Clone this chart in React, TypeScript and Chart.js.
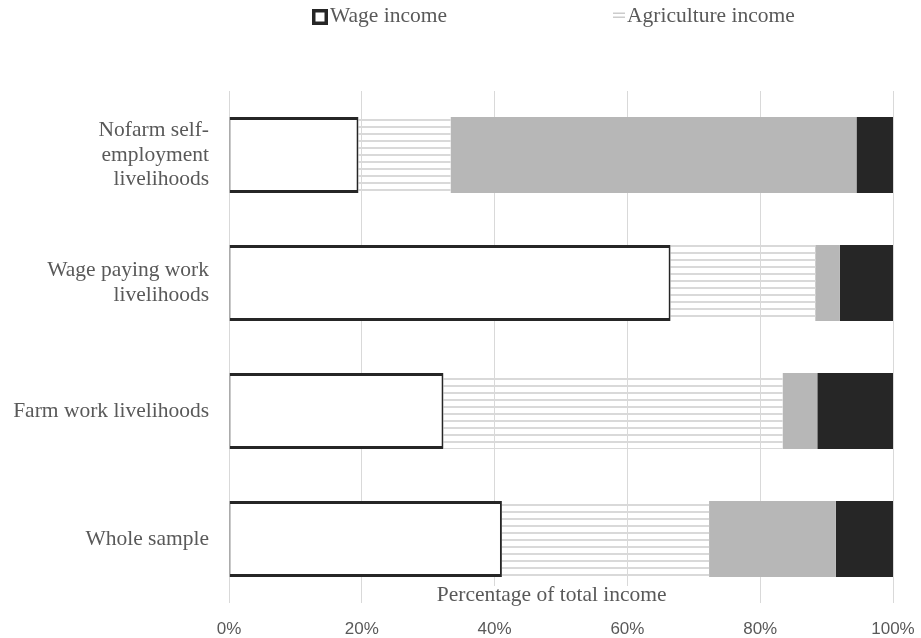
import { useEffect, useRef } from 'react';
import { Chart, registerables } from 'chart.js';
Chart.register(...registerables);

const categories = [
  ['Nofarm self-', 'employment', 'livelihoods'],
  ['Wage paying work', 'livelihoods'],
  'Farm work livelihoods',
  'Whole sample',
];
const wageIncome = [19.5, 66.5, 32.3, 41.1];
const agricultureIncome = [13.9, 21.8, 51.1, 31.2];
const nonfarmIncome = [61.1, 3.7, 5.2, 19.1];
const otherIncome = [5.5, 8.0, 11.4, 8.6];
const seriesNames = ['Wage income', 'Agriculture income', 'Nonfarm self-employment income', 'Other income'];
const xTickLabels = ['0%', '20%', '40%', '60%', '80%', '100%'];
const axisTitle = 'Percentage of total income';

const SERIF = '"Liberation Serif", "Times New Roman", serif';
const SANS = '"Liberation Sans", Arial, sans-serif';
const TEXT = '#595959';
const DARK = '#262626';

export default function App() {
  const ref = useRef<HTMLCanvasElement>(null);
  useEffect(() => {
    const canvas = ref.current!;
    const ctx = canvas.getContext('2d')!;
    const pc = document.createElement('canvas');
    pc.width = 8;
    pc.height = 7;
    const pctx = pc.getContext('2d')!;
    pctx.fillStyle = '#d9d9d9';
    pctx.fillRect(0, 0, 8, 2);
    const stripes = ctx.createPattern(pc, 'repeat')!;

    const decor = {
      id: 'decor',
      afterDraw(chart: any) {
        const c = chart.ctx;
        const a = chart.chartArea;
        c.save();
        // axis title (drawn over the plot bottom, white box behind)
        c.font = `21.5px ${SERIF}`;
        const tw = c.measureText(axisTitle).width;
        const cx = a.left + (a.right - a.left) * 0.486;
        c.fillStyle = '#ffffff';
        c.fillRect(cx - tw / 2 - 4, a.bottom - 17, tw + 8, 17);
        c.fillStyle = TEXT;
        c.textAlign = 'center';
        c.textBaseline = 'alphabetic';
        c.fillText(axisTitle, cx, a.bottom - 2);

        // legend
        c.textAlign = 'left';
        c.fillStyle = DARK;
        c.fillRect(312, 9, 16, 16);
        c.fillStyle = '#ffffff';
        c.fillRect(315.5, 12.5, 9, 9);
        c.fillStyle = TEXT;
        c.fillText(seriesNames[0], 330, 22);

        c.fillStyle = '#cccccc';
        c.fillRect(613, 12.5, 12, 1.5);
        c.fillRect(613, 16.5, 12, 1.5);
        c.fillStyle = TEXT;
        c.fillText(seriesNames[1], 627, 22);
        c.restore();
      },
    };

    const chart = new Chart(canvas, {
      type: 'bar',
      data: {
        labels: categories as any,
        datasets: [
          {
            label: seriesNames[0],
            data: wageIncome,
            backgroundColor: '#ffffff',
            borderColor: DARK,
            borderWidth: { top: 3, bottom: 3, right: 2, left: 1 } as any,
            borderSkipped: false,
          },
          {
            label: seriesNames[1],
            data: agricultureIncome,
            backgroundColor: stripes as any,
            borderWidth: 0,
          },
          {
            label: seriesNames[2],
            data: nonfarmIncome,
            backgroundColor: '#b7b7b7',
            borderWidth: 0,
          },
          {
            label: seriesNames[3],
            data: otherIncome,
            backgroundColor: DARK,
            borderWidth: 0,
          },
        ],
      },
      options: {
        indexAxis: 'y',
        responsive: false,
        animation: false,
        layout: { padding: { top: 91, right: 28, left: 0, bottom: 0 } },
        datasets: { bar: { categoryPercentage: 1, barPercentage: 0.594 } },
        plugins: {
          legend: { display: false },
          tooltip: { enabled: false },
        },
        scales: {
          x: {
            stacked: true,
            min: 0,
            max: 100,
            ticks: {
              stepSize: 20,
              padding: 16,
              color: TEXT,
              font: { family: SANS, size: 17 },
              callback: (_v: any, i: number) => xTickLabels[i],
            },
            grid: { color: '#d9d9d9', lineWidth: 1, drawTicks: false },
            border: { display: false },
            afterFit: (s: any) => {
              s.height = 35;
              s.paddingLeft = 0;
              s.paddingRight = 0;
            },
          },
          y: {
            stacked: true,
            ticks: {
              padding: 20,
              color: TEXT,
              font: { family: SERIF, size: 21.5, lineHeight: 1.15 },
            },
            grid: { display: false, drawTicks: false },
            border: { display: false },
            afterFit: (s: any) => {
              s.width = 229;
              s.paddingTop = 0;
              s.paddingBottom = 0;
            },
          },
        },
      },
      plugins: [decor],
    });
    return () => chart.destroy();
  }, []);
  return (
    <div style={{ position: 'fixed', left: 0, top: 0, width: 921, height: 638, background: '#ffffff' }}>
      <canvas ref={ref} width={921} height={638} style={{ display: 'block' }} />
    </div>
  );
}
